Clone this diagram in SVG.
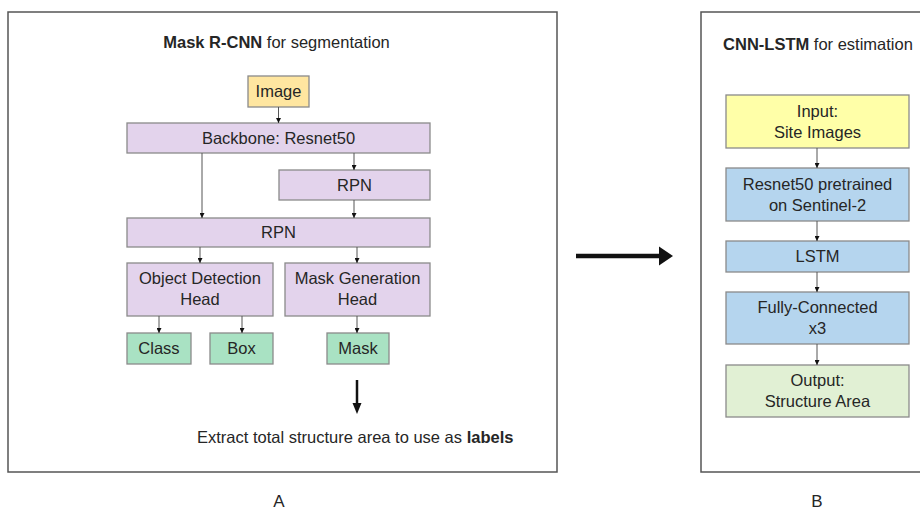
<svg xmlns="http://www.w3.org/2000/svg" width="920" height="510" viewBox="0 0 920 510">
<style>
text{font-family:"Liberation Sans",Arial,sans-serif;font-size:16.5px;fill:#262626;text-anchor:middle}
.frame{fill:#fff;stroke:#555;stroke-width:1.5}
.n{stroke:#8a8a8a;stroke-width:1.3}
.img{fill:#FFE6A0}
.pur{fill:#E3D3EC}
.grn{fill:#A9E2C3}
.yel{fill:#FFFFA8}
.blu{fill:#B5D5EE}
.lgr{fill:#E1F0D4}
.c{stroke:#555;stroke-width:1;fill:none;marker-end:url(#ah)}
b,.b{font-weight:bold}
.lbl{font-size:17px}
</style>
<defs>
<marker id="ah" viewBox="0 0 10 10" refX="10" refY="5" markerWidth="5" markerHeight="5" markerUnits="userSpaceOnUse" orient="auto">
<path d="M0,0 L10,5 L0,10 z" fill="#111"/>
</marker>
</defs>
<rect width="920" height="510" fill="#fff"/>
<g id="panelA">
<rect class="frame" x="8" y="12" width="549" height="460"/>
<text x="276.5" y="48"><tspan class="b">Mask R-CNN</tspan> for segmentation</text>
</g>
<g id="panelB">
<rect class="frame" x="701" y="12" width="240" height="460"/>
<text x="818" y="50"><tspan class="b">CNN-LSTM</tspan> for estimation</text>
</g>
<g id="image"><rect class="n img" x="248" y="76" width="61" height="31"/><text x="278.5" y="97">Image</text></g>
<g id="backbone"><rect class="n pur" x="127" y="123" width="303" height="30"/><text x="278.5" y="144">Backbone: Resnet50</text></g>
<g id="rpn1"><rect class="n pur" x="279" y="170" width="151" height="30"/><text x="354.5" y="191">RPN</text></g>
<g id="rpn2"><rect class="n pur" x="127" y="218" width="303" height="29"/><text x="278.5" y="238">RPN</text></g>
<g id="odh"><rect class="n pur" x="127" y="263" width="146" height="53"/><text x="200" y="284">Object Detection</text><text x="200" y="305">Head</text></g>
<g id="mgh"><rect class="n pur" x="285" y="263" width="145" height="53"/><text x="357.5" y="284">Mask Generation</text><text x="357.5" y="305">Head</text></g>
<g id="class"><rect class="n grn" x="127" y="333" width="64" height="31"/><text x="159" y="354">Class</text></g>
<g id="box"><rect class="n grn" x="210" y="333" width="63" height="31"/><text x="241.5" y="354">Box</text></g>
<g id="mask"><rect class="n grn" x="327" y="333" width="62" height="31"/><text x="358" y="354">Mask</text></g>
<g id="extract"><text x="197" y="443" style="text-anchor:start">Extract total structure area to use as <tspan class="b">labels</tspan></text></g>
<g id="input"><rect class="n yel" x="726" y="95" width="183" height="53"/><text x="817.5" y="117">Input:</text><text x="817.5" y="138">Site Images</text></g>
<g id="resnet"><rect class="n blu" x="726" y="168" width="183" height="53"/><text x="817.5" y="190">Resnet50 pretrained</text><text x="817.5" y="211">on Sentinel-2</text></g>
<g id="lstm"><rect class="n blu" x="726" y="241" width="183" height="31"/><text x="817.5" y="262">LSTM</text></g>
<g id="fc"><rect class="n blu" x="726" y="292" width="183" height="52"/><text x="817.5" y="313">Fully-Connected</text><text x="817.5" y="334">x3</text></g>
<g id="output"><rect class="n lgr" x="726" y="365" width="183" height="52"/><text x="817.5" y="386">Output:</text><text x="817.5" y="407">Structure Area</text></g>
<g id="connectors">
<path class="c" d="M278.5,107 V123"/>
<path class="c" d="M354,153 V170"/>
<path class="c" d="M202,153 V218"/>
<path class="c" d="M354,200 V218"/>
<path class="c" d="M200,247 V263"/>
<path class="c" d="M357,247 V263"/>
<path class="c" d="M159,316 V333"/>
<path class="c" d="M242,316 V333"/>
<path class="c" d="M357,316 V333"/>
<path class="c" d="M817,148 V168"/>
<path class="c" d="M817,221 V241"/>
<path class="c" d="M817,272 V292"/>
<path class="c" d="M817,344 V365"/>
<path d="M357,380 V404" stroke="#111" stroke-width="2.5"/>
<path d="M352.5,403 L361.5,403 L357,414 z" fill="#111"/>
<path d="M576,256 H661" stroke="#111" stroke-width="4.5"/>
<path d="M659,246.5 L673,256 L659,265.5 z" fill="#111"/>
</g>
<text class="lbl" x="279" y="507">A</text>
<text class="lbl" x="817" y="507">B</text>
</svg>
